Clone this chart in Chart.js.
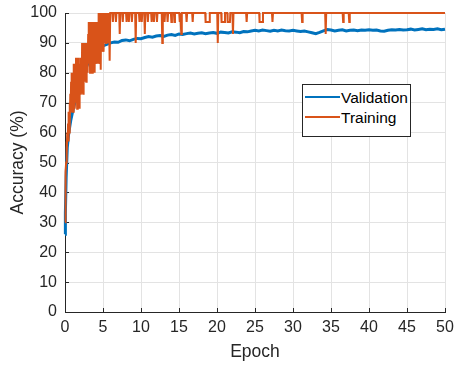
<!DOCTYPE html>
<html>
<head>
<meta charset="utf-8">
<script src="https://cdn.jsdelivr.net/npm/chart.js@4/dist/chart.umd.min.js"></script>
<style>
  body { margin: 0; background: #fff; }
  #wrap { position: relative; width: 454px; height: 365px; }
  #legend { position: absolute; left: 302px; top: 84px; width: 107px; height: 51px;
            border: 1px solid #262626; background: #fff; font: 15.5px 'Liberation Sans', Arial, sans-serif; color: #000; }
  #legend .row { position: absolute; left: 0; height: 19px; line-height: 19px; white-space: nowrap; }
  #legend .swatch { position: absolute; left: 2px; top: 8px; width: 35px; height: 2px; }
  #legend .txt { position: absolute; left: 38px; top: 0; }
</style>
</head>
<body>
<div id="wrap">
  <canvas id="accChart" width="454" height="365"></canvas>
  <div id="legend"></div>
</div>
<script>
const seriesNames = ['Validation', 'Training'];
const seriesColors = ['#0072BD', '#D95319'];
const xTicks = [0, 5, 10, 15, 20, 25, 30, 35, 40, 45, 50];
const yTicks = [0, 10, 20, 30, 40, 50, 60, 70, 80, 90, 100];

// validation accuracy
const valEpoch = [0, 0.05, 0.15, 0.3, 0.5, 0.75, 1, 1.5, 2, 2.5, 3, 3.5, 4, 4.5, 5, 5.5, 6, 6.5, 7, 7.5, 8, 8.5, 9, 9.5, 10,
  10.5, 11, 11.5, 12, 12.5, 13, 13.5, 14, 14.5, 15, 15.5, 16, 16.5, 17, 17.5, 18, 18.5, 19, 19.5, 20,
  20.5, 21, 21.5, 22, 22.5, 23, 23.5, 24, 24.5, 25, 25.5, 26, 26.5, 27, 27.5, 28, 28.5, 29, 29.5, 30,
  30.5, 31, 31.5, 32, 32.5, 33, 33.5, 34, 34.5, 35, 35.5, 36, 36.5, 37, 37.5, 38, 38.5, 39, 39.5, 40,
  40.5, 41, 41.5, 42, 42.5, 43, 43.5, 44, 44.5, 45, 45.5, 46, 46.5, 47, 47.5, 48, 48.5, 49, 49.5, 50];
const valAcc = [26, 33, 45, 55, 60, 64, 67, 72, 76, 80, 83, 85.5, 87, 88, 89, 89.5, 90, 90.3, 90.2, 90.8, 91, 90.7, 91.2, 91.5, 91.4,
  91.8, 92.1, 91.9, 92.3, 92.5, 92.2, 92.6, 92.8, 92.5, 93, 92.8, 93.1, 93.3, 93, 93.2, 93.4, 93.1, 93.3, 93.5, 93.2,
  93.6, 93.5, 93.3, 93.7, 93.6, 93.4, 93.8, 93.7, 94, 94.2, 94, 94.3, 94.1, 93.9, 94.2, 94, 94.3, 94.1, 94, 94.2,
  94, 93.8, 94, 93.7, 93.4, 93.1, 93.5, 94, 94.5, 94.3, 94, 94.2, 94.4, 94, 94.2, 94.3, 94.1, 94.3, 94.2, 94.4,
  94.2, 94.3, 94, 93.9, 94.2, 94.4, 94.3, 94.5, 94.3, 94.4, 94.6, 94.3, 94.5, 94.7, 94.4, 94.6, 94.5, 94.7, 94.4, 94.6];

// training (mini-batch) accuracy, first six epochs
const trainEarlyEpoch = [0, 0.05, 0.1, 0.15, 0.2, 0.25, 0.3, 0.35, 0.4, 0.45, 0.5, 0.55, 0.6, 0.65, 0.7, 0.75, 0.8, 0.85, 0.9, 0.95,
  1, 1.05, 1.1, 1.15, 1.2, 1.25, 1.3, 1.35, 1.4, 1.45, 1.5, 1.55, 1.6, 1.65, 1.7, 1.75, 1.8, 1.85, 1.9, 1.95,
  2, 2.05, 2.1, 2.15, 2.2, 2.25, 2.3, 2.35, 2.4, 2.45, 2.5, 2.55, 2.6, 2.65, 2.7, 2.75, 2.8, 2.85, 2.9, 2.95,
  3, 3.05, 3.1, 3.15, 3.2, 3.25, 3.3, 3.35, 3.4, 3.45, 3.5, 3.55, 3.6, 3.65, 3.7, 3.75, 3.8, 3.85, 3.9, 3.95,
  4, 4.05, 4.1, 4.15, 4.2, 4.25, 4.3, 4.35, 4.4, 4.45, 4.5, 4.55, 4.6, 4.65, 4.7, 4.75, 4.8, 4.85, 4.9, 4.95,
  5, 5.05, 5.1, 5.15, 5.2, 5.25, 5.3, 5.35, 5.4, 5.45, 5.5, 5.55, 5.6, 5.65, 5.7, 5.75, 5.8, 5.85, 5.9, 5.95, 6];
const trainEarlyAcc = [30, 37, 47, 50, 57, 53, 60, 57, 63, 57, 67, 60, 70, 63, 73, 67, 77, 70, 80, 67,
  70, 80, 67, 83, 70, 77, 68, 83, 73, 85, 70, 80, 68, 83, 73, 85, 70, 80, 68, 83,
  73, 85, 77, 83, 73, 90, 77, 87, 73, 90, 80, 87, 77, 90, 80, 87, 77, 90, 83, 90,
  80, 93, 83, 97, 87, 93, 80, 97, 83, 93, 87, 97, 80, 93, 83, 97, 87, 93, 80, 97,
  83, 97, 87, 93, 83, 97, 90, 97, 83, 100, 87, 97, 83, 100, 81, 97, 87, 100, 90, 100,
  93, 100, 87, 100, 90, 100, 93, 100, 90, 100, 97, 100, 90, 100, 93, 100, 97, 100, 84, 100, 100];

// training accuracy after epoch 6: mostly 100 with short drops
const trainLateEpoch = [6.23, 6.3, 6.37, 6.63, 6.7, 6.77, 7.13, 7.2, 7.27, 7.53, 7.6, 7.67, 8.03, 8.1, 8.17,
  8.33, 8.4, 8.47, 8.73, 8.8, 8.87, 9.23, 9.3, 9.37, 9.73, 9.8, 9.87, 10.03, 10.1, 10.17,
  10.43, 10.5, 10.57, 10.83, 10.9, 10.97, 11.33, 11.4, 11.47, 11.63, 11.7, 11.77, 12.03, 12.1, 12.17,
  12.73, 12.8, 12.87, 13.03, 13.1, 13.17, 13.43, 13.5, 13.57, 13.93, 14, 14.07, 14.33, 14.4, 14.47,
  15.03, 15.1, 15.17, 15.23, 15.3, 15.37, 15.93, 16, 16.07, 16.73, 16.8, 16.87,
  18.45, 18.5, 19, 19.05, 20.03, 20.1, 20.17, 20.55, 20.6, 21, 21.05, 21.35, 21.4, 21.7, 21.75,
  22.03, 22.1, 22.17, 23.83, 23.9, 23.97, 25.55, 25.6, 26, 26.05, 27.23, 27.3, 27.37,
  31.13, 31.2, 31.27, 34.23, 34.3, 34.37, 36.53, 36.6, 36.67, 37.33, 37.4, 37.47, 50];
const trainLateAcc = [100, 97, 100, 100, 97, 100, 100, 93, 100, 100, 97, 100, 100, 97, 100,
  100, 97, 100, 100, 97, 100, 100, 90, 100, 100, 97, 100, 100, 97, 100,
  100, 93, 100, 100, 97, 100, 100, 97, 100, 100, 97, 100, 100, 97, 100,
  100, 90, 100, 100, 97, 100, 100, 97, 100, 100, 97, 100, 100, 97, 100,
  100, 97, 100, 100, 93, 100, 100, 97, 100, 100, 97, 100,
  100, 97, 97, 100, 100, 90, 100, 100, 97, 97, 100, 100, 97, 97, 100,
  100, 93, 100, 100, 97, 100, 100, 97, 97, 100, 100, 97, 100,
  100, 97, 100, 100, 93, 100, 100, 97, 100, 100, 97, 100, 100];

const trainEpoch = trainEarlyEpoch.concat(trainLateEpoch);
const trainAcc = trainEarlyAcc.concat(trainLateAcc);

const tickFont = { family: "'Liberation Sans', Arial, sans-serif", size: 16 };
const titleFont = { family: "'Liberation Sans', Arial, sans-serif", size: 17.5 };

// MATLAB style ticks that point into the plot
const innerTicks = {
  id: 'innerTicks',
  beforeDatasetsDraw(chart) {
    const { ctx, chartArea: a, scales: { x, y } } = chart;
    ctx.save();
    ctx.strokeStyle = '#262626';
    ctx.lineWidth = 1;
    ctx.beginPath();
    x.ticks.forEach(t => {
      const px = Math.round(x.getPixelForValue(t.value)) + 0.5;
      ctx.moveTo(px, a.bottom); ctx.lineTo(px, a.bottom - 4);
    });
    y.ticks.forEach(t => {
      const py = Math.round(y.getPixelForValue(t.value)) + 0.5;
      ctx.moveTo(a.left, py); ctx.lineTo(a.left + 4, py);
    });
    ctx.stroke();
    ctx.restore();
  }
};

// keep chart.js from adding extra room for edge labels
function noEdgePadding(s) {
  s.paddingTop = 0; s.paddingBottom = 0; s.paddingLeft = 0; s.paddingRight = 0;
}

const chart = new Chart(document.getElementById('accChart').getContext('2d'), {
  type: 'line',
  data: {
    datasets: [
      {
        label: seriesNames[0],
        data: valEpoch.map((e, i) => ({ x: e, y: valAcc[i] })),
        borderColor: seriesColors[0], borderWidth: 3, pointRadius: 0, tension: 0, order: 1, clip: 3
      },
      {
        label: seriesNames[1],
        data: trainEpoch.map((e, i) => ({ x: e, y: trainAcc[i] })),
        borderColor: seriesColors[1], borderWidth: 2, pointRadius: 0, tension: 0, order: 0, clip: 3
      }
    ]
  },
  options: {
    responsive: false,
    animation: false,
    layout: { padding: { left: 0, right: 9, top: 13, bottom: 0 } },
    plugins: { legend: { display: false }, tooltip: { enabled: false } },
    scales: {
      x: {
        type: 'linear', min: 0, max: 50,
        afterBuildTicks: s => { s.ticks = xTicks.map(v => ({ value: v })); },
        afterFit: s => { s.height = 53; noEdgePadding(s); },
        grid: { color: '#e3e3e3', drawTicks: false },
        border: { color: '#262626', width: 1 },
        ticks: { color: '#262626', font: tickFont, padding: 6, maxRotation: 0 },
        title: { display: true, text: 'Epoch', color: '#262626', font: titleFont, padding: { bottom: 2 } }
      },
      y: {
        min: 0, max: 100,
        afterBuildTicks: s => { s.ticks = yTicks.map(v => ({ value: v })); },
        afterFit: s => { s.width = 65; noEdgePadding(s); },
        grid: { color: '#e3e3e3', drawTicks: false },
        border: { color: '#262626', width: 1 },
        ticks: { color: '#262626', font: tickFont, padding: 8 },
        title: { display: true, text: 'Accuracy (%)', color: '#262626', font: titleFont, padding: { top: 8 } }
      }
    }
  },
  plugins: [innerTicks]
});

// legend box inside the axes, like the original
const legend = document.getElementById('legend');
chart.data.datasets.forEach((ds, i) => {
  const row = document.createElement('div');
  row.className = 'row';
  row.style.top = (3 + i * 19.5) + 'px';
  row.innerHTML = '<span class="swatch" style="background:' + ds.borderColor + '"></span><span class="txt">' + ds.label + '</span>';
  legend.appendChild(row);
});
</script>
</body>
</html>
